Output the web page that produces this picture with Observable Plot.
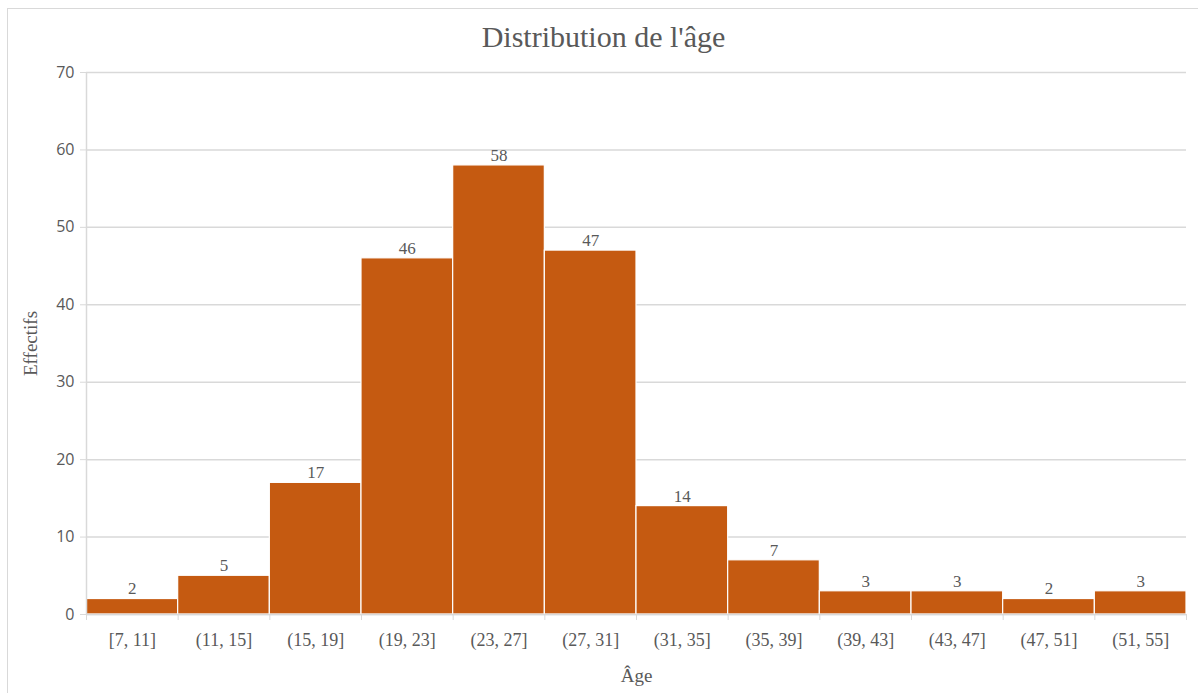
<!DOCTYPE html>
<html>
<head>
<meta charset="utf-8">
<script src="https://cdn.jsdelivr.net/npm/d3@7"></script>
<script src="https://cdn.jsdelivr.net/npm/@observablehq/plot@0.6"></script>
<style>
  html, body { margin: 0; padding: 0; background: #fff; overflow: hidden; }
  #frame { position: absolute; left: 7px; top: 8px; width: 1210px; height: 710px; border: 1.5px solid #d9d9d9; box-sizing: border-box; }
  #chart { position: absolute; left: 0; top: 0; }
</style>
</head>
<body>
<div id="frame"></div>
<div id="chart"></div>
<script>
const categories = ["[7, 11]", "(11, 15]", "(15, 19]", "(19, 23]", "(23, 27]", "(27, 31]", "(31, 35]", "(35, 39]", "(39, 43]", "(43, 47]", "(47, 51]", "(51, 55]"];
const counts = [2, 5, 17, 46, 58, 47, 14, 7, 3, 3, 2, 3];
const yTicks = [0, 10, 20, 30, 40, 50, 60, 70];
const title = "Distribution de l'âge";
const xLabel = "Âge";
const yLabel = "Effectifs";

const data = categories.map((c, i) => ({i, c, n: counts[i]}));
const serif = "'Liberation Serif', 'DejaVu Serif', serif";
const sans = "'Open Sans', 'Noto Sans', sans-serif";
const grey = "#595959";
const line = "#d9d9d9";

const chart = Plot.plot({
  width: 1198,
  height: 693,
  marginLeft: 86,
  marginRight: 12,
  marginTop: 72,
  marginBottom: 79,
  style: {background: "transparent"},
  x: {domain: [0, categories.length], axis: null},
  y: {domain: [0, 70], axis: null},
  marks: [
    Plot.gridY({ticks: yTicks, stroke: line, strokeOpacity: 1, strokeWidth: 1.5}),
    Plot.rectY(data, {x1: "i", x2: d => d.i + 1, y: "n", fill: "#C55A11", stroke: "white", strokeWidth: 1.2}),
    Plot.ruleX([0], {stroke: line, strokeWidth: 1.5, y1: 0, y2: 70}),
    Plot.ruleY([0], {stroke: line, strokeWidth: 1.5}),
    Plot.axisY({ticks: yTicks, tickSize: 6, tickPadding: 6, stroke: line, fill: grey, fontSize: 16, fontFamily: sans, label: null}),
    Plot.axisX({ticks: d3.range(0, categories.length + 1), tickSize: 6, tickFormat: () => "", stroke: line, label: null}),
    Plot.axisX({ticks: d3.range(categories.length).map(i => i + 0.5), tickSize: 0, tickPadding: 19, tickFormat: v => categories[Math.floor(v)], fill: grey, fontSize: 18, fontFamily: serif, label: null}),
    Plot.text(data, {x: d => d.i + 0.5, y: "n", text: d => String(d.n), dy: -10, fill: grey, fontSize: 17, fontFamily: serif}),
    Plot.text([xLabel], {frameAnchor: "bottom", lineAnchor: "middle", dy: 61, fill: grey, fontSize: 19, fontFamily: serif}),
    Plot.text([yLabel], {frameAnchor: "left", textAnchor: "middle", rotate: -90, dx: -56, fill: grey, fontSize: 19, fontFamily: serif}),
    Plot.text([title], {frameAnchor: "top", lineAnchor: "middle", dx: -33, dy: -35, fill: grey, fontSize: 30, fontFamily: serif})
  ]
});
document.getElementById("chart").appendChild(chart);
</script>
</body>
</html>
